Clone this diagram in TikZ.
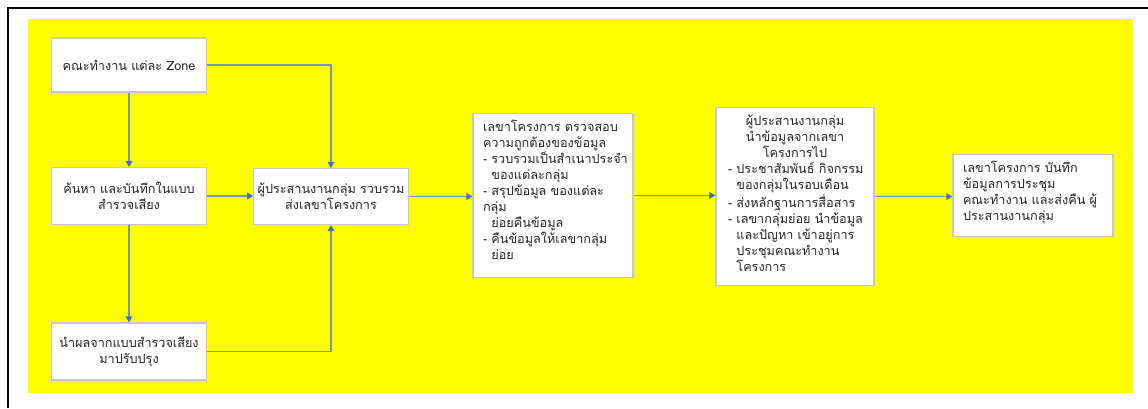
\documentclass[tikz,border=0pt]{standalone}
\usepackage{fontspec}
\newfontfamily\thaifont[Script=Thai]{Loma}
\usetikzlibrary{arrows.meta}
\definecolor{bgyellow}{HTML}{FFFF00}
\definecolor{boxline}{HTML}{C8C8C8}
\definecolor{flowline}{HTML}{7A93B8}
\definecolor{flowtip}{HTML}{4472C4}
\definecolor{txtgray}{HTML}{262626}
\exhyphenpenalty=10000
\newcommand{\ind}{\phantom{-~}}
\newcommand{\midline}[1]{\makebox[\linewidth]{#1}}

\begin{document}
\begin{tikzpicture}[x=0.75pt,y=-0.75pt]
\tikzstyle{box}=[draw=boxline,fill=white,line width=0.8pt,text=txtgray,font=\thaifont\fontsize{9.5}{12}\selectfont]
\tikzstyle{midbox}=[box,align=center,inner sep=2pt,minimum width=116pt]
\tikzstyle{topbox}=[box,anchor=north,align=left,inner xsep=7.5pt,inner ysep=5pt,text height=8.5pt]
\tikzstyle{flow}=[draw=flowline,line width=0.8pt,-{Triangle[width=5pt,length=4.5pt,color=flowtip,fill=flowtip]}]
\useasboundingbox (0,0) rectangle (1148,408);
\fill[bgyellow] (28,19) rectangle (1133,393);
\draw[line width=1.5pt] (8,408) -- (8,8) -- (1148,8);
% left column
\node[midbox,minimum height=40.5pt] (zone) at (129,65) {คณะทำงาน แต่ละ Zone};
\node[midbox,minimum height=42.75pt] (search) at (129,196) {ค้นหา และบันทึกในแบบ\\สำรวจเสียง};
\node[midbox,minimum height=42.75pt] (improve) at (129,351.5) {นำผลจากแบบสำรวจเสียง\\มาปรับปรุง};
\node[midbox,minimum height=42pt] (coord) at (331,196.5) {ผู้ประสานงานกลุ่ม รวบรวม\\ส่งเลขาโครงการ};
% right part
\node[topbox,text width=105pt,text depth=104.5pt] (check) at (553,113) {เลขาโครงการ~ตรวจสอบ\\
ความถูกต้องของข้อมูล\\
-~รวบรวมเป็นสำเนาประจำ\\
\ind ของแต่ละกลุ่ม\\
-~สรุปข้อมูล~ของแต่ละ\\
กลุ่ม\\
\ind ย่อยคืนข้อมูล\\
-~คืนข้อมูลให้เลขากลุ่ม\\
\ind ย่อย};
\node[topbox,inner xsep=9pt,text width=100.5pt,text depth=115pt] (spread) at (795,107) {\midline{ผู้ประสานงานกลุ่ม}\\
\midline{นำข้อมูลจากเลขา}\\
\midline{โครงการไป}\\
-~ประชาสัมพันธ์~กิจกรรม\\
\ind ของกลุ่มในรอบเดือน\\
-~ส่งหลักฐานการสื่อสาร\\
-~เลขากลุ่มย่อย~นำข้อมูล\\
\ind และปัญหา~เข้าอยู่การ\\
\ind ประชุมคณะทำงาน\\
\ind โครงการ};
\node[topbox,text width=105pt,text depth=43pt] (record) at (1033,154) {เลขาโครงการ~บันทึก\\
ข้อมูลการประชุม\\
คณะทำงาน~และส่งคืน~ผู้\\
ประสานงานกลุ่ม};
% connectors
\draw[flow] (zone) -- (search);
\draw[flow] (search) -- (improve);
\draw[flow] (zone.east) -| (coord.north);
\draw[flow] (improve.east) -| (coord.south);
\foreach \from/\to in {search/coord, coord/check, check/spread, spread/record}
  \draw[flow] (\from.east) -- (\from.east -| \to.west);
\end{tikzpicture}
\end{document}
